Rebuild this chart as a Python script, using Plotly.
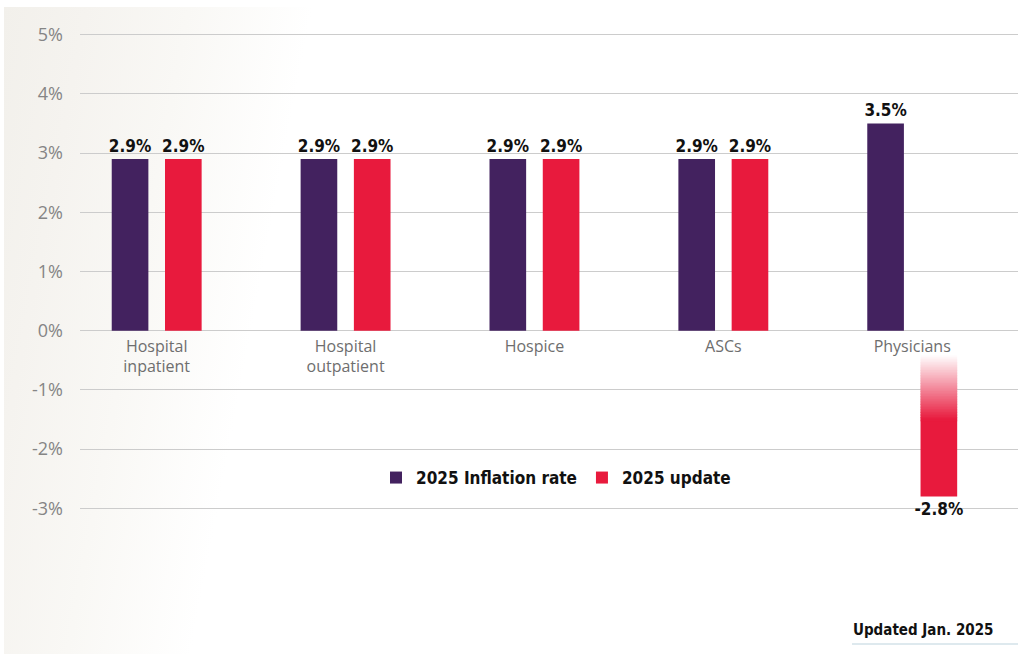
import base64
import plotly.graph_objects as go

# ---------------- data ----------------
categories = ["Hospital<br>inpatient", "Hospital<br>outpatient", "Hospice", "ASCs", "Physicians"]
inflation_rate = [2.9, 2.9, 2.9, 2.9, 3.5]
update_rate = [2.9, 2.9, 2.9, 2.9, -2.8]
series_names = ["2025 Inflation rate", "2025 update"]
y_ticks = [-3, -2, -1, 0, 1, 2, 3, 4, 5]
note_text = "Updated Jan. 2025"

# ---------------- layout constants ----------------
W, H = 1018, 656
L, R, T, B = 80, 0, 30, 118
PW, PH = W - L - R, H - T - B
PURPLE = "#43225F"
RED = "#E81A3D"
GRID = "#CCCCCC"
BAR_W = 0.194
OFF_P = -0.238
OFF_R = 0.044
X_RANGE = [-0.406, 4.560]
Y_RANGE = [-3.502, 5.079]
BOLD_FONT = "DejaVu Sans Condensed, Liberation Sans Narrow, sans-serif"
REG_FONT = "Open Sans, Noto Sans, sans-serif"

positions = list(range(len(categories)))
zero_frac = (0 - Y_RANGE[0]) / (Y_RANGE[1] - Y_RANGE[0])


def px_x(p):
    return (p - L) / PW


def px_y(p):
    return (T + PH - p) / PH


def fmt(v):
    return f"{v:.1f}%"


def bold(size):
    return dict(family=BOLD_FONT, size=size, color="#111111", weight="bold")


# red series: negative bars fade from white at the top
FADE_TOP, FADE_BOT = 0.15, 0.54
red_base = [0 if v >= 0 else v * FADE_BOT for v in update_rate]
red_len = [v - b for v, b in zip(update_rate, red_base)]

fig = go.Figure()

fig.add_trace(go.Bar(
    x=positions, y=inflation_rate, name=series_names[0],
    marker=dict(color=PURPLE, line=dict(width=0)),
    width=BAR_W, offset=OFF_P,
    text=[fmt(v) for v in inflation_rate], textposition="outside",
    textfont=bold(17), constraintext="none",
    cliponaxis=False, hoverinfo="skip",
))

fig.add_trace(go.Bar(
    x=positions, y=red_len, base=red_base, name=series_names[1],
    marker=dict(color=RED, line=dict(width=0)),
    width=BAR_W, offset=OFF_R,
    text=[fmt(v) for v in update_rate], textposition="outside",
    textfont=bold(17), constraintext="none",
    cliponaxis=False, hoverinfo="skip",
))


# gradient segments for negative update bars
def mix(t):
    r1, g1, b1 = int(RED[1:3], 16), int(RED[3:5], 16), int(RED[5:7], 16)
    return f"rgb({round(255 + (r1 - 255) * t)},{round(255 + (g1 - 255) * t)},{round(255 + (b1 - 255) * t)})"


N = 40
seg_x, seg_base, seg_len, seg_col = [], [], [], []
for p, v in zip(positions, update_rate):
    if v >= 0:
        continue
    top, bot = v * FADE_TOP, v * FADE_BOT
    step = (bot - top) / N
    for k in range(N):
        seg_x.append(p)
        seg_base.append(top + step * k)
        seg_len.append(step * 1.6)
        seg_col.append(mix(min(1.0, (k + 0.8) / N)))

fig.add_trace(go.Bar(
    x=seg_x, y=seg_len, base=seg_base, showlegend=False,
    marker=dict(color=seg_col, line=dict(width=0)),
    width=BAR_W, offset=OFF_R, hoverinfo="skip",
))

# background gradient
svg = f"""<svg xmlns='http://www.w3.org/2000/svg' width='{W}' height='{H}' viewBox='0 0 {W} {H}' preserveAspectRatio='none'>
<defs><linearGradient id='g' x1='0' y1='0' x2='1' y2='0.12'>
<stop offset='0' stop-color='#F2F0EB'/>
<stop offset='0.08' stop-color='#F5F3EF'/>
<stop offset='0.18' stop-color='#F9F8F5'/>
<stop offset='0.3' stop-color='#FFFFFF'/>
<stop offset='1' stop-color='#FFFFFF'/>
</linearGradient></defs>
<rect x='0' y='0' width='{W}' height='{H}' fill='#FFFFFF'/>
<rect x='4' y='7' width='{W - 4}' height='{H - 9}' fill='url(#g)'/>
</svg>"""
src = "data:image/svg+xml;base64," + base64.b64encode(svg.encode()).decode()

fig.update_layout(
    width=W, height=H,
    margin=dict(l=L, r=R, t=T, b=B),
    paper_bgcolor="#FFFFFF",
    plot_bgcolor="rgba(0,0,0,0)",
    barmode="overlay",
    images=[dict(source=src, xref="paper", yref="paper",
                 x=px_x(0), y=px_y(0), sizex=W / PW, sizey=H / PH,
                 xanchor="left", yanchor="top", sizing="stretch", layer="below")],
    xaxis=dict(
        range=X_RANGE, tickmode="array", tickvals=positions, ticktext=categories,
        showgrid=False, zeroline=False, showline=False, ticks="",
        anchor="free", position=zero_frac, ticklabelstandoff=4,
        tickfont=dict(family=REG_FONT, size=16, color="#6E6E6E"),
    ),
    yaxis=dict(
        range=Y_RANGE, tickmode="array", tickvals=y_ticks,
        ticktext=[f"{v}%" for v in y_ticks],
        showgrid=True, gridcolor=GRID, gridwidth=1.3,
        zeroline=True, zerolinecolor=GRID, zerolinewidth=1.3,
        showline=False, ticks="", ticklabelstandoff=16,
        tickfont=dict(family=REG_FONT, size=18, color="#858585"),
    ),
    legend=dict(
        orientation="h", x=px_x(556), y=px_y(478), xanchor="center", yanchor="middle",
        bgcolor="rgba(0,0,0,0)", font=bold(17), itemwidth=30,
        itemclick=False, itemdoubleclick=False, traceorder="normal",
    ),
    annotations=[dict(
        text=note_text, xref="paper", yref="paper", x=px_x(851), y=px_y(630),
        xanchor="left", yanchor="middle", showarrow=False, font=bold(15),
    )],
    shapes=[dict(
        type="line", xref="paper", yref="paper",
        x0=px_x(852), x1=px_x(W), y0=px_y(644), y1=px_y(644),
        line=dict(color="#D3E2E8", width=1.5),
    )],
    showlegend=True,
)

fig.write_html("out.html", config={"displayModeBar": False},
               post_script="document.body.style.margin='0';document.body.style.overflow='hidden';")
